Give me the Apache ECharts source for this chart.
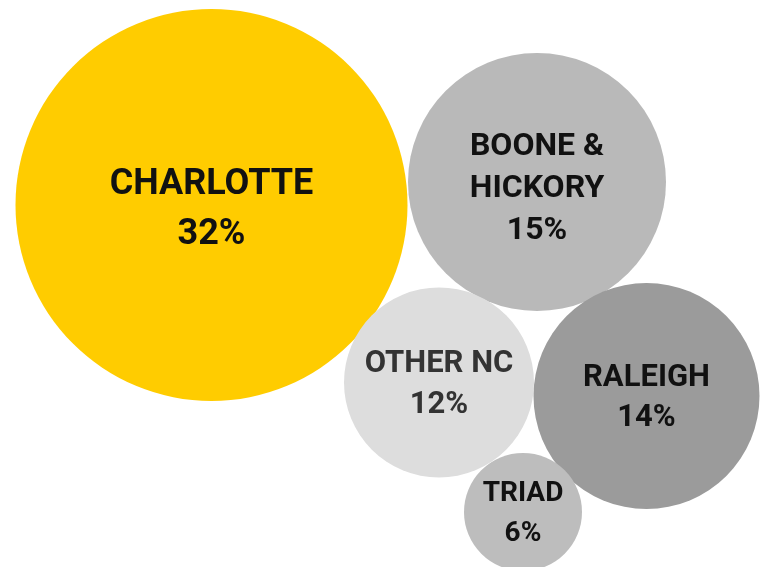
<!DOCTYPE html>
<html>
<head>
<meta charset="utf-8">
<script src="https://cdn.jsdelivr.net/npm/echarts@6/dist/echarts.min.js"></script>
<style>
  html, body { margin: 0; padding: 0; background: #fff; }
  #main { width: 765px; height: 567px; }
</style>
</head>
<body>
<div id="main"></div>
<script>
// regions and their share (%)
var regions = ["CHARLOTTE", "BOONE &\nHICKORY", "OTHER NC", "RALEIGH", "TRIAD"];
var shares = [32, 15, 12, 14, 6];
// bubble layout (packed circle centres, in layout units) and bubble diameters
var layoutX = [211.5, 537, 439, 646.5, 523];
var layoutY = [205, 182, 382.5, 396, 512];
var diameter = [392, 258, 190, 226, 118];

var colors = ["#ffcc00", "#b9b9b9", "#dddddd", "#9b9b9b", "#bdbdbd"];
var textColors = ["#111111", "#111111", "#333333", "#111111", "#111111"];
var fontSizes = [36, 32, 31, 31, 28];
var lineHeights = [50, 42, 41, 40, 40];
var labelShift = [5, 7, 2, 2, 2];

var myChart = echarts.init(document.getElementById("main"));

var data = regions.map(function (name, i) {
  return {
    name: name,
    value: [layoutX[i], layoutY[i], shares[i]],
    symbolSize: diameter[i],
    itemStyle: { color: colors[i], opacity: 1 },
    label: {
      color: textColors[i],
      fontSize: fontSizes[i],
      lineHeight: lineHeights[i],
      offset: [0, labelShift[i]]
    }
  };
});

var option = {
  animation: false,
  grid: { left: 0, right: 0, top: 0, bottom: 0 },
  xAxis: { type: "value", min: 0, max: 765, show: false },
  yAxis: { type: "value", min: 0, max: 567, inverse: true, show: false },
  series: [
    {
      type: "scatter",
      symbol: "circle",
      data: data,
      itemStyle: { opacity: 1 },
      label: {
        show: true,
        position: "inside",
        fontFamily: "Roboto, sans-serif",
        fontWeight: "bold",
        align: "center",
        formatter: function (p) {
          return p.name + "\n" + p.value[2] + "%";
        }
      },
      emphasis: { disabled: true }
    }
  ]
};
myChart.setOption(option);
</script>
</body>
</html>
